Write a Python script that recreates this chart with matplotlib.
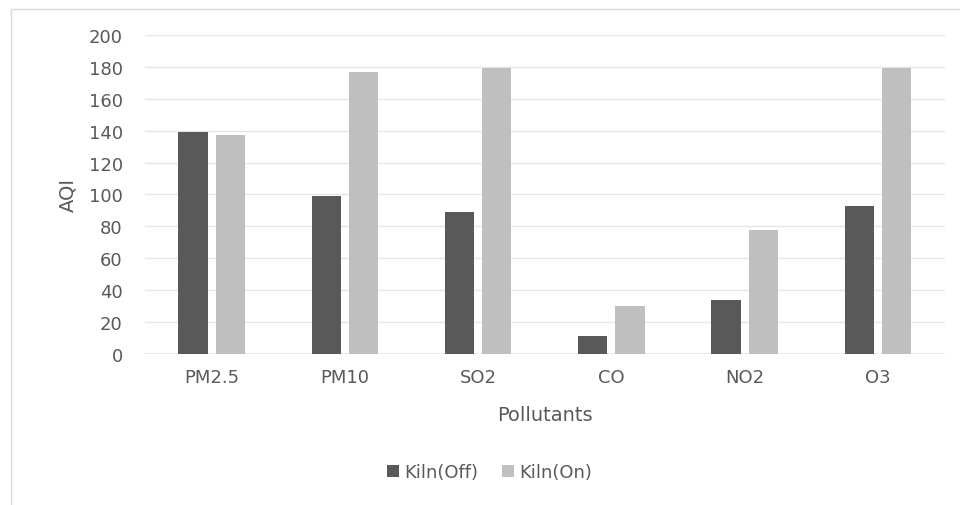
import matplotlib
matplotlib.use("Agg")
import matplotlib.pyplot as plt
import numpy as np
from matplotlib.patches import Rectangle

# Data
pollutants = ["PM2.5", "PM10", "SO2", "CO", "NO2", "O3"]
kiln_off = [139, 99, 89, 11, 34, 93]
kiln_on = [137, 177, 179, 30, 78, 179]

plt.rcParams['font.family'] = ['DejaVu Sans']
TEXT = "#595959"

fig = plt.figure(figsize=(9.6, 5.06), dpi=100)
ax = fig.add_axes([0.151, 0.2984, 0.833, 0.6305])

# light border around the whole chart area
fig.patches.append(Rectangle((0.011, -0.01), 0.995, 0.99, transform=fig.transFigure,
                             fill=False, edgecolor="#d9d9d9", linewidth=1))

x = np.arange(len(pollutants))
w = 0.22
gap = 0.06
ax.bar(x - (w + gap) / 2, kiln_off, w, color="#595959", label="Kiln(Off)", zorder=3)
ax.bar(x + (w + gap) / 2, kiln_on, w, color="#bfbfbf", label="Kiln(On)", zorder=3)

ax.set_xlim(-0.5, len(pollutants) - 0.5)
ax.set_ylim(0, 200)
ax.set_yticks(range(0, 201, 20))
ax.set_xticks(x)
ax.set_xticklabels(pollutants)
ax.yaxis.grid(True, color="#e6e6e6", linewidth=1, zorder=0)
ax.axhline(0, color="#e6e6e6", linewidth=1.2, zorder=2)
ax.tick_params(length=0, colors=TEXT, labelsize=13)
ax.tick_params(axis="x", pad=10)
ax.tick_params(axis="y", pad=16)
for s in ax.spines.values():
    s.set_visible(False)

ax.set_ylabel("AQI", fontsize=14, color=TEXT, labelpad=8)
ax.set_xlabel("Pollutants", fontsize=14, color=TEXT, labelpad=14)

fig.legend(loc="center", bbox_to_anchor=(0.51, 0.065), ncol=2, frameon=False,
           fontsize=13, labelcolor=TEXT, handlelength=0.65, handleheight=0.65,
           handletextpad=0.3, columnspacing=1.3)

fig.savefig("out.png", dpi=100)
